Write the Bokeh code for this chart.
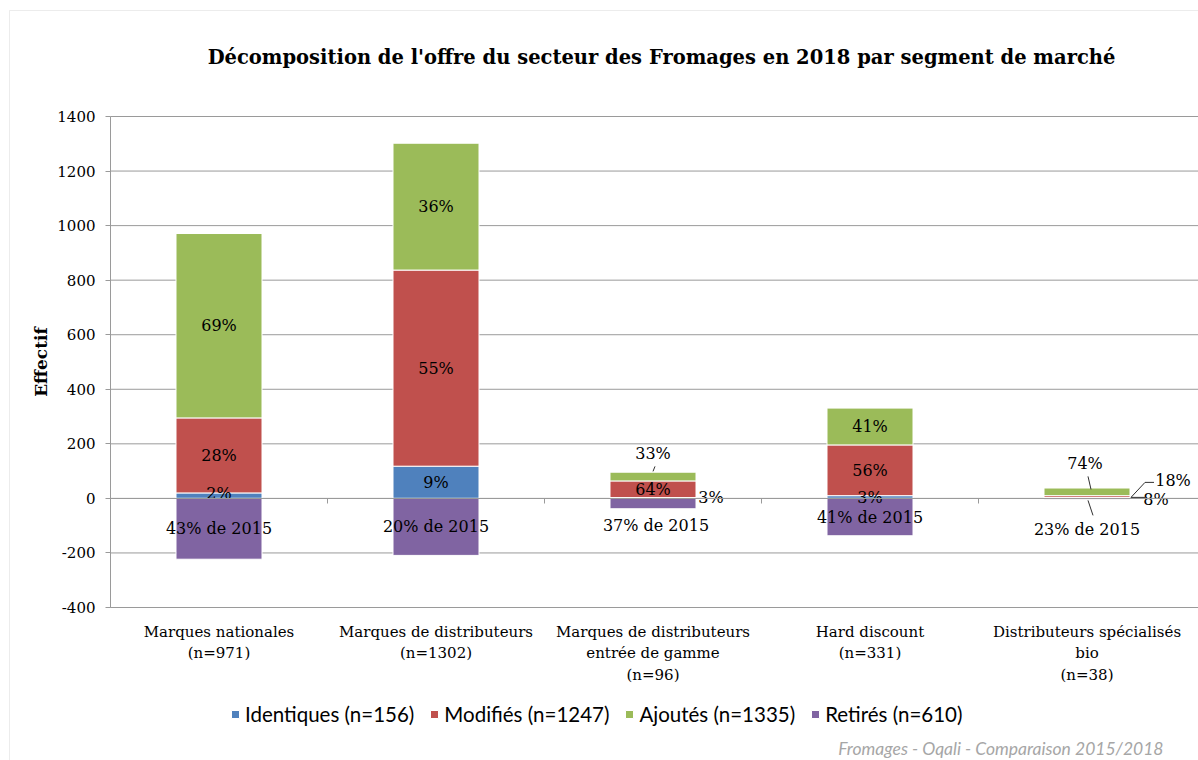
import numpy as np
from bokeh.plotting import figure
from bokeh.models import (ColumnDataSource, Range1d, FixedTicker, LinearAxis,
                          Legend, LegendItem, Label, BoxAnnotation)
from bokeh.core.properties import value
from bokeh.embed import file_html
from bokeh.resources import INLINE

# ---------------- data ----------------
categories = [
    "Marques nationales\n(n=971)",
    "Marques de distributeurs\n(n=1302)",
    "Marques de distributeurs\nentrée de gamme\n(n=96)",
    "Hard discount\n(n=331)",
    "Distributeurs spécialisés\nbio\n(n=38)",
]
identiques = [20, 118, 3, 10, 3]
modifies = [275, 719, 61, 186, 7]
ajoutes = [676, 465, 32, 135, 28]
retires = [-223, -209, -38, -137, -3]

lbl_identiques = ["2%", "9%", "3%", "3%", "8%"]
lbl_modifies = ["28%", "55%", "64%", "56%", "18%"]
lbl_ajoutes = ["69%", "36%", "33%", "41%", "74%"]
lbl_retires = ["43% de 2015", "20% de 2015", "37% de 2015", "41% de 2015", "23% de 2015"]

series_names = ["Identiques (n=156)", "Modifiés (n=1247)", "Ajoutés (n=1335)", "Retirés (n=610)"]
colors = ["#4F81BD", "#C0504D", "#9BBB59", "#8064A2"]
y_ticks = [-400, -200, 0, 200, 400, 600, 800, 1000, 1200, 1400]
title_text = "Décomposition de l'offre du secteur des Fromages en 2018 par segment de marché"
footer_text = "Fromages - Oqali - Comparaison 2015/2018"
y_label = "Effectif"

# ---------------- layout (frame covers the whole canvas) ----------------
W, H = 1198, 760
PL, PT, PB = 110, 116, 607          # plot-area left / top / bottom in pixels
cat_px = 217.0
Y0, Y1 = -400, 1400
upp = (Y1 - Y0) / (PB - PT)         # data units per pixel
X_END = (W - PL) / cat_px
SERIF = "DejaVu Serif"
GRID = "#9a9a9a"


def px2x(px):
    return (px - PL) / cat_px


def px2y(py):
    return Y1 - (py - PT) * upp


n = len(categories)
xc = np.arange(n) + 0.5
ident = np.array(identiques, float)
mod = np.array(modifies, float)
aj = np.array(ajoutes, float)
ret = np.array(retires, float)

bottoms = [np.zeros(n), ident, ident + mod, np.zeros(n)]
tops = [ident, ident + mod, ident + mod + aj, ret]

p = figure(width=W, height=H, x_range=Range1d(px2x(0), px2x(W)),
           y_range=Range1d(px2y(H), px2y(0)), output_backend="svg",
           toolbar_location=None, x_axis_type=None, y_axis_type=None,
           min_border=0, min_border_left=0, min_border_right=0,
           min_border_top=0, min_border_bottom=0,
           background_fill_color="white", border_fill_color="white")
p.outline_line_color = None

# horizontal gridlines across the plot area
p.segment(x0=0, x1=X_END, y0=y_ticks, y1=y_ticks, line_color=GRID, line_width=1)

# y axis
ya = LinearAxis(fixed_location=0, ticker=FixedTicker(ticks=y_ticks), bounds=(Y0, Y1))
ya.major_label_overrides = {t: str(t) for t in y_ticks}
ya.major_label_text_font = SERIF
ya.major_label_text_font_size = "15px"
ya.major_label_text_color = "#000000"
ya.axis_line_color = GRID
ya.major_tick_line_color = GRID
ya.major_tick_out = 5
ya.major_tick_in = 0
ya.minor_tick_line_color = None
ya.major_label_standoff = 10
ya.axis_label = y_label
ya.axis_label_text_font = SERIF
ya.axis_label_text_font_style = "bold"
ya.axis_label_text_font_size = "17px"
ya.axis_label_text_color = "#000000"
ya.axis_label_standoff = 3
p.add_layout(ya, "left")

# category labels below the plot area
xa = LinearAxis(fixed_location=Y0, ticker=FixedTicker(ticks=list(xc)), bounds=(0, X_END))
xa.major_label_overrides = {float(x): c for x, c in zip(xc, categories)}
xa.major_label_text_font = SERIF
xa.major_label_text_font_size = "15px"
xa.major_label_text_color = "#000000"
xa.major_tick_line_color = None
xa.minor_tick_line_color = None
xa.axis_line_color = GRID
xa.major_label_standoff = 9
p.add_layout(xa, "below")

# axis line at zero with category boundary ticks
ax0 = LinearAxis(fixed_location=0, ticker=FixedTicker(ticks=list(np.arange(1, n))),
                 bounds=(0, X_END), major_label_text_color=None, axis_line_color=GRID,
                 major_tick_line_color=GRID, major_tick_out=5, major_tick_in=0,
                 minor_tick_line_color=None)
p.add_layout(ax0, "below")

# bars
renderers = []
for b, t, c in zip(bottoms, tops, colors):
    src = ColumnDataSource(dict(x=xc, bottom=b, top=t))
    r = p.vbar(x="x", width=86 / cat_px, bottom="bottom", top="top", source=src,
               fill_color=c, line_color="white", line_width=1)
    renderers.append(r)

# data labels: default segment midpoints, pixel shifts for small segments
labels = [lbl_identiques, lbl_modifies, lbl_ajoutes, lbl_retires]
shift = {  # (category, series) -> (dx px, dy px down)
    (0, 0): (0, -2),
    (2, 0): (58, 0), (2, 2): (0, -23), (2, 3): (3, 22),
    (4, 0): (69, 2), (4, 1): (86, -16), (4, 2): (-2, -28), (4, 3): (0, 31),
}
lx, ly, lt = [], [], []
for s in range(4):
    for i in range(n):
        mid = (bottoms[s][i] + tops[s][i]) / 2
        dx, dy = shift.get((i, s), (0, 0))
        lx.append(xc[i] + dx / cat_px)
        ly.append(mid - dy * upp)
        lt.append(labels[s][i])
p.text(x="x", y="y", text="text", source=ColumnDataSource(dict(x=lx, y=ly, text=lt)),
       text_font=value(SERIF), text_font_size="16px", text_align="center",
       text_baseline="middle", text_color="#000000")

# leader lines (pixel offsets from bar centre / zero line)
leaders = [
    (2, [(2, -32), (0, -27)]),
    (4, [(1, -22), (4, -9)]),
    (4, [(44, -1), (58, -16), (67, -16)]),
    (4, [(44, -1), (58, -1)]),
    (4, [(1, 2), (6, 17)]),
]
lxs, lys = [], []
for i, pts in leaders:
    lxs.append([xc[i] + dx / cat_px for dx, dy in pts])
    lys.append([-dy * upp for dx, dy in pts])
p.multi_line(xs=lxs, ys=lys, line_color="#303030", line_width=1)

# legend
legend = Legend(items=[LegendItem(label=nm, renderers=[r]) for nm, r in zip(series_names, renderers)],
                orientation="horizontal", location=(230, 34))
legend.background_fill_alpha = 0
legend.border_line_color = None
legend.padding = 0
legend.margin = 0
legend.glyph_width = 10
legend.glyph_height = 10
legend.label_standoff = 5
legend.spacing = 15
legend.label_text_font = "Lato"
legend.label_text_font_size = "20.5px"
legend.label_text_color = "#000000"
p.add_layout(legend)

# title and footer
p.add_layout(Label(x=px2x(661), y=px2y(57), text=title_text,
                   text_font=SERIF, text_font_style="bold", text_font_size="19.5px",
                   text_align="center", text_baseline="middle", text_color="#000000"))
p.add_layout(Label(x=px2x(1163), y=px2y(748), text=footer_text,
                   text_font="Lato", text_font_style="italic", text_font_size="17.5px",
                   text_align="right", text_baseline="middle", text_color="#a6a6a6"))

# outer chart border
p.add_layout(BoxAnnotation(left=px2x(9), right=px2x(W + 50), top=px2y(10), bottom=px2y(H + 50),
                           fill_alpha=0, line_color="#bfbfbf", line_width=1))

open("out.html", "w").write(file_html(p, INLINE))
